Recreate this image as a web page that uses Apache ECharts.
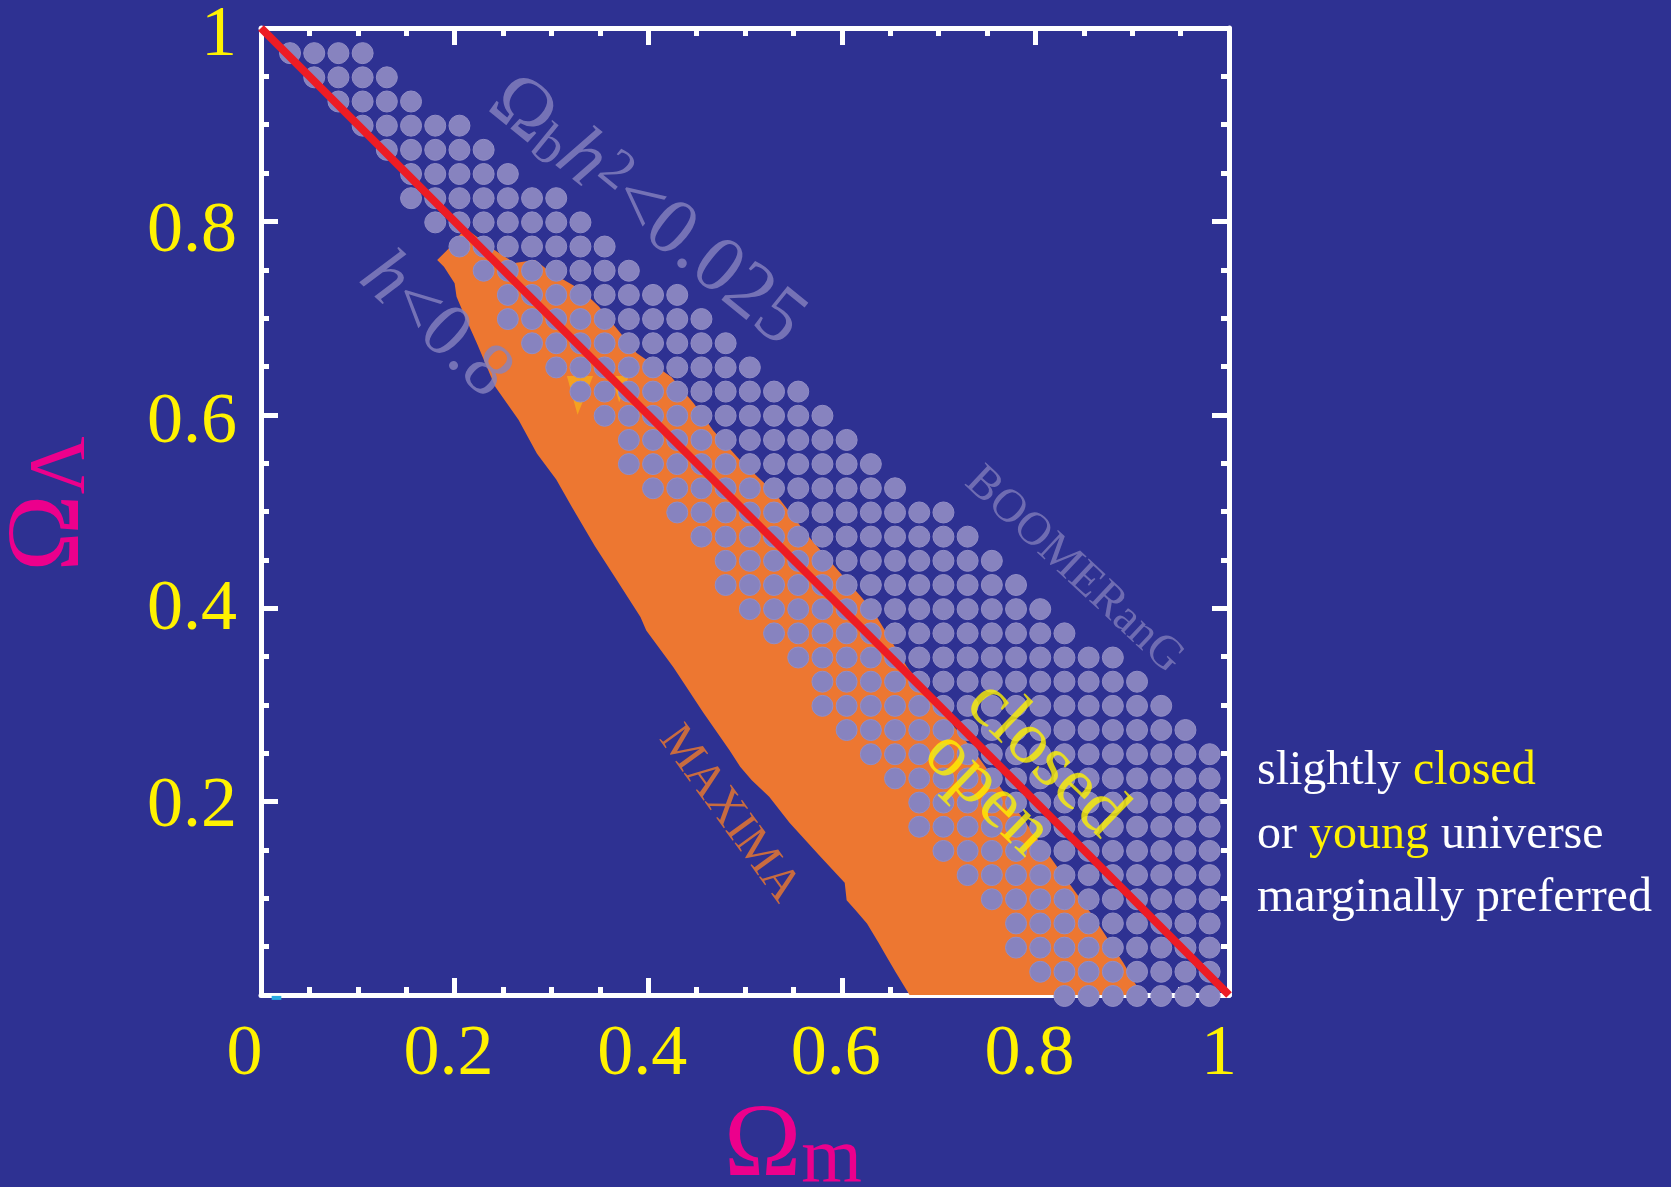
<!DOCTYPE html>
<html><head><meta charset="utf-8">
<script src="https://cdn.jsdelivr.net/npm/echarts@6/dist/echarts.min.js"></script>
<style>html,body{margin:0;padding:0;background:#2E3192;}#c{width:1671px;height:1187px;}</style>
</head><body><div id="c"></div>
<script>
// ---------- data ----------
const xTickLabels = ['0', '0.2', '0.4', '0.6', '0.8', '1'];
const yTickLabels = ['', '0.2', '0.4', '0.6', '0.8', '1'];
const xAxisTitle = ['Ω', 'm'];
const yAxisTitle = ['Ω', 'Λ'];

// flat universe line  Omega_m + Omega_L = 1
const flatX = [0, 1];
const flatY = [1, 0];

// MAXIMA allowed region: upper edge (left -> right) and lower edge (right -> left)
const maximaUpperX = [0.182,0.194,0.211,0.242,0.262,0.283,0.300,0.331,0.349,0.366,0.388,0.424,0.447,0.467,0.495,0.531,0.566,0.605,0.632,0.667,0.691,0.736,0.781,0.825,0.860,0.891,0.910];
const maximaUpperY = [0.760,0.772,0.793,0.770,0.757,0.760,0.747,0.729,0.712,0.691,0.664,0.639,0.612,0.584,0.553,0.519,0.474,0.429,0.398,0.340,0.308,0.253,0.191,0.129,0.081,0.033,0.000];
const maximaLowerX = [0.670,0.656,0.646,0.638,0.626,0.614,0.605,0.603,0.578,0.546,0.525,0.507,0.495,0.484,0.457,0.426,0.398,0.392,0.365,0.345,0.321,0.305,0.285,0.266,0.242,0.223,0.211,0.202,0.200,0.189];
const maximaLowerY = [0.000,0.023,0.040,0.054,0.074,0.088,0.098,0.116,0.143,0.178,0.205,0.222,0.236,0.253,0.292,0.339,0.377,0.391,0.433,0.464,0.505,0.533,0.560,0.595,0.629,0.674,0.701,0.722,0.736,0.753];

// small light-orange marks
const markAX = [0.316, 0.343, 0.327];
const markAY = [0.640, 0.640, 0.600];
const markBX = [0.362, 0.380, 0.370];
const markBY = [0.640, 0.640, 0.613];

// BOOMERanG dot lattice: per row (top -> bottom) first and last column index
const boomerColX0 = 0.030;
const boomerRowY0 = 0.974;
const boomerStep = 0.025;
const boomerRowStart = [0,1,2,3,4,5,5,6,7,8,9,9,10,11,12,13,14,14,15,16,17,18,18,19,20,21,22,22,23,24,25,26,26,27,28,29,30,30,31,32];
const boomerRowEnd   = [3,4,5,7,8,9,11,12,13,14,16,17,18,19,21,22,23,24,25,27,28,29,30,31,32,34,35,36,37,38,38,38,38,38,38,38,38,38,38,38];

// annotation anchor points (data coordinates)
const annoNames = ['Ωbh2<0.025', 'h<0.8', 'BOOMERanG', 'MAXIMA', 'closed', 'open'];
const annoX = [0.398, 0.180, 0.840, 0.4835, 0.811, 0.750];
const annoY = [0.810, 0.692, 0.4395, 0.187, 0.244, 0.2084];

// tiny cyan mark at origin
const cyanX = [0.011, 0.021];
const cyanY = [-0.003, -0.003];

// ---------- styles ----------
const SERIF = 'Liberation Serif';
const BG = '#2E3192', YEL = '#FFF200', MAG = '#EC008C', LAV = '#8783BF', ORG = '#ED7731';

const lav = (fs, extra) => Object.assign({fontSize: fs, fontFamily: SERIF, color: LAV, lineHeight: fs, verticalAlign: 'bottom'}, extra || {});
const annoLabel = [
  {rotate: -39, formatter: '{O|Ω}{b|b}{h|h}{s|2}{t|<0.025}',
   rich: {O: lav(80), b: lav(56, {lineHeight: 40}), h: lav(80, {fontStyle: 'italic'}), s: lav(56, {lineHeight: 42, verticalAlign: 'top'}), t: lav(80)}},
  {rotate: -43, formatter: '{h|h}{t|<0.8}', rich: {h: lav(76, {fontStyle: 'italic'}), t: lav(76)}},
  {rotate: -43, formatter: '{t|BOOMERanG}', rich: {t: lav(47, {color: '#7F7CBA'})}},
  {rotate: -54, formatter: '{t|MAXIMA}', rich: {t: {fontSize: 48, fontFamily: SERIF, color: '#F07A2B'}}},
  {rotate: -44, formatter: '{t|closed}', rich: {t: {fontSize: 75, fontFamily: SERIF, color: YEL}}},
  {rotate: -44, formatter: '{t|open}', rich: {t: {fontSize: 75, fontFamily: SERIF, color: YEL}}}
];

// ---------- build series data ----------
const dots = [];
boomerRowStart.forEach((s, i) => {
  for (let j = s; j <= boomerRowEnd[i]; j++) dots.push([boomerColX0 + j * boomerStep, boomerRowY0 - i * boomerStep]);
});
const maximaPoly = maximaUpperX.map((x, i) => [x, maximaUpperY[i]])
  .concat(maximaLowerX.map((x, i) => [x, maximaLowerY[i]]));
const markPolys = [markAX.map((x, i) => [x, markAY[i]]), markBX.map((x, i) => [x, markBY[i]])];
const annoData = annoNames.map((n, i) => ({name: n, value: [annoX[i], annoY[i]], label: Object.assign({show: true, position: 'inside'}, annoLabel[i])}));

function axisBase(pos, showLabel) {
  return {
    type: 'value', position: pos, min: 0, max: 1, interval: 0.2,
    axisLine: {show: true, onZero: false, lineStyle: {color: '#FFFFFF', width: 5}},
    axisTick: {show: true, inside: true, length: 17, lineStyle: {color: '#FFFFFF', width: 5}},
    minorTick: {show: true, splitNumber: 4, length: 8, lineStyle: {color: '#FFFFFF', width: 5}},
    splitLine: {show: false}, minorSplitLine: {show: false},
    axisLabel: {show: showLabel}
  };
}
const tickFont = {color: YEL, fontSize: 72, fontFamily: SERIF};
const titleBig = {fontSize: 104, fontFamily: SERIF, color: MAG, lineHeight: 104, verticalAlign: 'bottom'};

const xBottom = axisBase('bottom', true);
xBottom.axisLabel = Object.assign({show: true, margin: 24, padding: [0, 12, 0, 0],
  formatter: v => {
    const i = Math.round(v / 0.2);
    if (i === 0) return '{z|' + xTickLabels[0] + '}';
    if (i === 5) return '{o|' + xTickLabels[5] + '}';
    return '{n|' + xTickLabels[i] + '}';
  },
  rich: {z: Object.assign({padding: [0, 21, 0, 0]}, tickFont), o: Object.assign({padding: [0, 8, 0, 0]}, tickFont), n: Object.assign({}, tickFont)}
}, tickFont);
xBottom.name = '{a|' + xAxisTitle[0] + '}{s|' + xAxisTitle[1] + '}';
xBottom.nameLocation = 'middle';
xBottom.nameGap = 90;
xBottom.nameTextStyle = {padding: [0, 0, 0, 96], rich: {a: titleBig, s: {fontSize: 78, fontFamily: SERIF, color: MAG, lineHeight: 64, verticalAlign: 'bottom'}}};

// per-label vertical nudges of the y tick labels (top padding, px)
const yLabelNudge = [0, 10, 4, 16, 22, 16];
const yRich = {};
yLabelNudge.forEach((p, i) => { yRich['p' + i] = Object.assign({padding: [p, 0, 0, 0]}, tickFont); });
const yLeft = axisBase('left', true);
yLeft.axisLabel = Object.assign({show: true, margin: 24,
  formatter: v => { const i = Math.round(v / 0.2); return yTickLabels[i] ? '{p' + i + '|' + yTickLabels[i] + '}' : ''; },
  rich: yRich}, tickFont);
yLeft.name = '{a|' + yAxisTitle[0] + '}{s|' + yAxisTitle[1] + '}';
yLeft.nameLocation = 'middle';
yLeft.nameGap = 158;
yLeft.nameTextStyle = {padding: [0, 0, 0, 15], rich: {a: titleBig, s: {fontSize: 80, fontFamily: SERIF, color: MAG, lineHeight: 46, verticalAlign: 'bottom'}}};

const chart = echarts.init(document.getElementById('c'), null, {renderer: 'canvas'});
chart.setOption({
  backgroundColor: BG,
  animation: false,
  grid: {left: 261, top: 28, right: 442, bottom: 192, containLabel: false, outerBoundsMode: 'none'},
  xAxis: [xBottom, axisBase('top', false)],
  yAxis: [yLeft, axisBase('right', false)],
  series: [
    {type: 'custom', name: 'MAXIMA', z: 1, clip: false, silent: true, data: [[0.5, 0.5]],
     renderItem: (params, api) => ({type: 'polygon', shape: {points: maximaPoly.map(p => api.coord(p))}, style: {fill: ORG}})},
    {type: 'custom', name: 'marks', z: 1, clip: false, silent: true, data: [[0, 0], [1, 0]],
     renderItem: (params, api) => ({type: 'polygon', shape: {points: markPolys[params.dataIndex].map(p => api.coord(p))}, style: {fill: '#F5A21F'}})},
    {type: 'scatter', name: 'BOOMERanG', z: 2, clip: false, silent: true, symbol: 'circle', symbolSize: 21,
     itemStyle: {color: LAV, borderColor: '#928EC6', borderWidth: 1, opacity: 1}, data: dots},
    {type: 'line', name: 'flat', z: 3, clip: false, silent: true, symbol: 'none',
     lineStyle: {color: '#ED1C24', width: 8}, data: flatX.map((x, i) => [x, flatY[i]])},
    {type: 'line', name: 'cyan', z: 3, clip: false, silent: true, symbol: 'none',
     lineStyle: {color: '#29ABE2', width: 4}, data: cyanX.map((x, i) => [x, cyanY[i]])},
    {type: 'scatter', name: 'labels', z: 5, clip: false, silent: true, symbolSize: 0, data: annoData}
  ],
  graphic: [
    {type: 'text', x: 1257, y: 740, z: 10, style: {text: 'slightly {y|closed}\nor {y|young} universe\nmarginally preferred',
      fill: '#FFFFFF', fontSize: 48, fontFamily: SERIF, lineHeight: 63.5, align: 'left', verticalAlign: 'top',
      rich: {y: {fill: YEL, fontSize: 48, fontFamily: SERIF, lineHeight: 63.5}}}}
  ]
});
</script></body></html>
